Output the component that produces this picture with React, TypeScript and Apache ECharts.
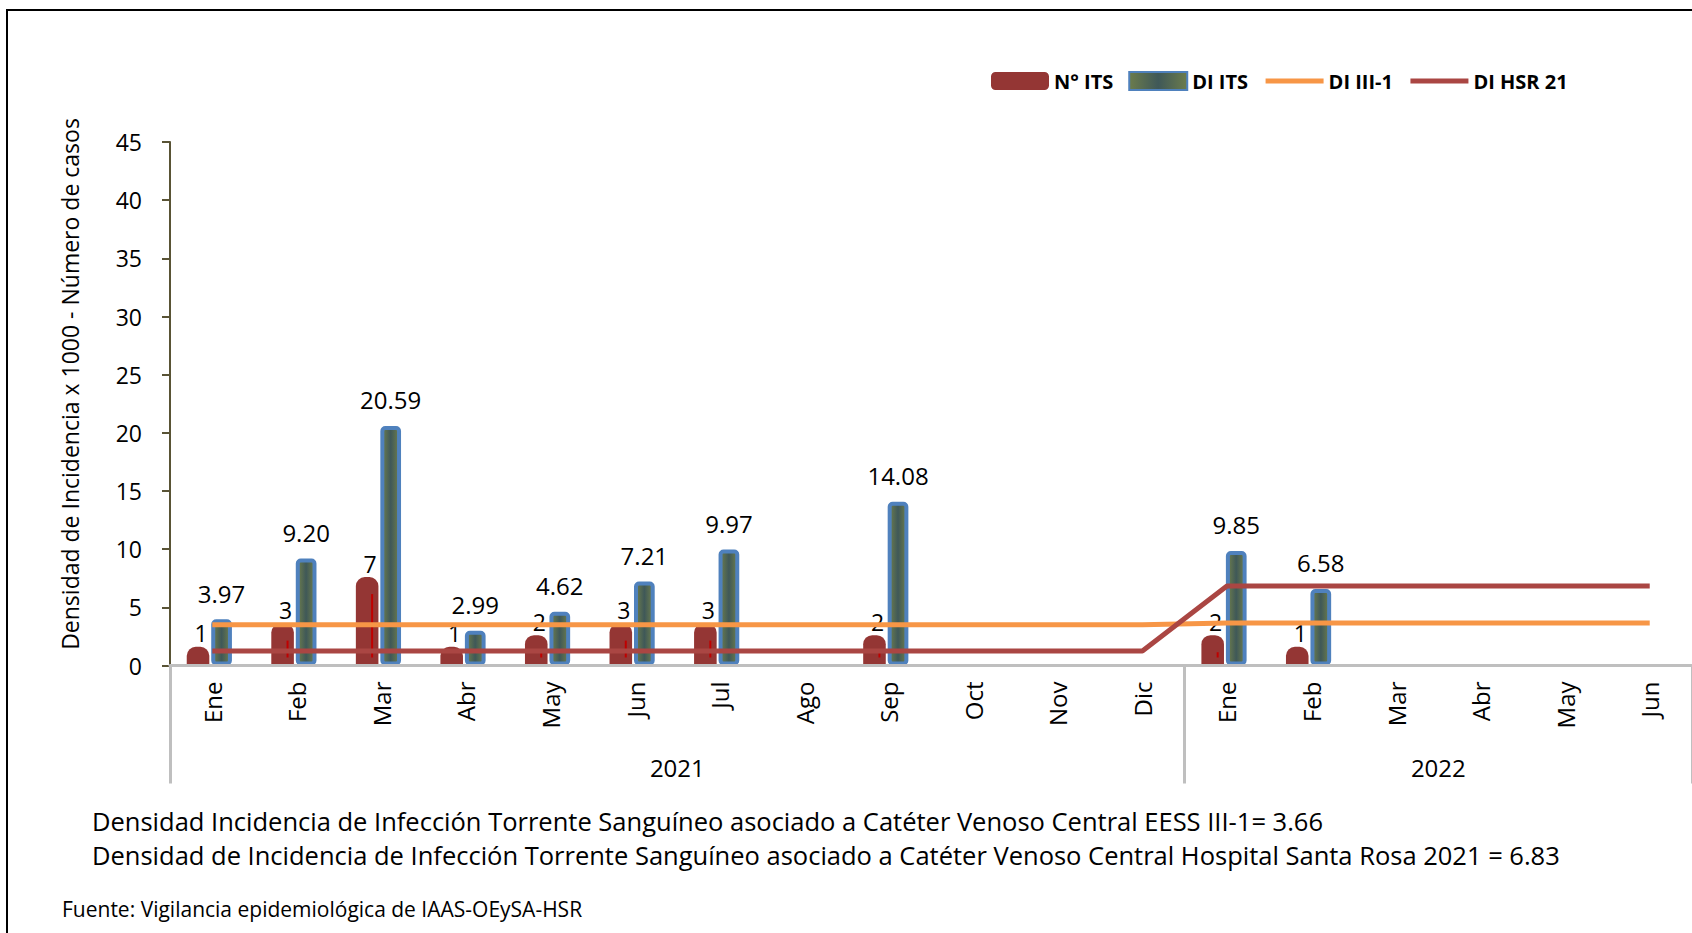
import React, { useEffect, useRef } from "react";
import * as echarts from "echarts";

const months = ["Ene","Feb","Mar","Abr","May","Jun","Jul","Ago","Sep","Oct","Nov","Dic","Ene","Feb","Mar","Abr","May","Jun"];
const years = ["2021", "2022"];
const yearSpans = [12, 6];
const nITS = [1,3,7,1,2,3,3,null,2,null,null,null,2,1,null,null,null,null];
const diITS = [3.97,9.20,20.59,2.99,4.62,7.21,9.97,null,14.08,null,null,null,9.85,6.58,null,null,null,null];
const diIII1 = [3.5,3.5,3.5,3.5,3.5,3.5,3.5,3.5,3.5,3.5,3.5,3.5,3.66,3.66,3.66,3.66,3.66,3.66];
const diHSR21 = [1.25,1.25,1.25,1.25,1.25,1.25,1.25,1.25,1.25,1.25,1.25,1.25,6.83,6.83,6.83,6.83,6.83,6.83];
const yTicks = { min: 0, max: 45, interval: 5 };
const yTitle = "Densidad de Incidencia x 1000 - Número de casos";
const note1 = "Densidad Incidencia de Infección Torrente Sanguíneo asociado a Catéter Venoso Central EESS III-1= 3.66";
const note2 = "Densidad de Incidencia de Infección Torrente Sanguíneo asociado a Catéter Venoso Central Hospital Santa Rosa 2021 = 6.83";
const source = "Fuente: Vigilancia epidemiológica de IAAS-OEySA-HSR";

const FONT = "Open Sans";
const RED = "#943634";

export default function App() {
  const ref = useRef<HTMLDivElement>(null);
  useEffect(() => {
    if (!ref.current) return;
    const chart = echarts.init(ref.current, null, { renderer: "svg" });
    const bounds: number[] = [0];
    yearSpans.forEach((s) => bounds.push(bounds[bounds.length - 1] + s));
    const centers = yearSpans.map((s, i) => bounds[i] + s / 2);
    const diFill = new echarts.graphic.LinearGradient(0, 0, 1, 0, [
      { offset: 0, color: "#6c7c4c" },
      { offset: 0.5, color: "#3f5858" },
      { offset: 1, color: "#6c7c4c" },
    ]);
    const nData = nITS
      .map((v, i) => (v == null ? null : [i, v]))
      .filter((d) => d !== null);
    chart.setOption({
      animation: false,
      backgroundColor: "#ffffff",
      textStyle: { fontFamily: FONT },
      grid: { left: 170, top: 142, width: 1525, height: 523.5 },
      legend: {
        left: 986,
        top: 66,
        itemWidth: 58,
        itemHeight: 18,
        itemGap: 15,
        textStyle: { fontFamily: FONT, fontWeight: "bold", fontSize: 20, color: "#000" },
        data: [
          { name: "N° ITS", icon: "roundRect" },
          { name: "DI ITS", icon: "rect" },
          { name: "DI III-1", itemStyle: { opacity: 0 }, lineStyle: { width: 5, color: "#f79646" } },
          { name: "DI HSR 21", itemStyle: { opacity: 0 }, lineStyle: { width: 5, color: "#aa4643" } },
        ],
      },
      xAxis: [
        {
          type: "category",
          data: months,
          boundaryGap: true,
          axisLine: { show: true, lineStyle: { color: "#bfbfbf", width: 3 } },
          axisTick: { show: false },
          axisLabel: { rotate: 90, margin: 16, fontSize: 24, color: "#000", fontFamily: FONT, interval: 0 },
          splitLine: { show: false },
          z: 5,
        },
        {
          type: "value",
          position: "bottom",
          min: 0,
          max: bounds[bounds.length - 1],
          axisLine: { show: false },
          splitLine: { show: false },
          axisTick: {
            show: true,
            customValues: bounds,
            length: 118,
            lineStyle: { color: "#bfbfbf", width: 3 },
          },
          axisLabel: {
            show: true,
            customValues: centers,
            margin: 90,
            fontSize: 24,
            color: "#000",
            fontFamily: FONT,
            formatter: (v: number) => {
              const i = centers.findIndex((c) => Math.abs(c - v) < 1e-6);
              return i >= 0 ? years[i] : "";
            },
          },
        },
      ],
      yAxis: {
        type: "value",
        min: yTicks.min,
        max: yTicks.max,
        interval: yTicks.interval,
        axisLine: { show: true, lineStyle: { color: "#595335", width: 2 } },
        axisTick: { show: true, length: 8, lineStyle: { color: "#595335", width: 2 } },
        axisLabel: { margin: 28, fontSize: 23, color: "#000", fontFamily: FONT },
        splitLine: { show: false },
      },
      series: [
        {
          name: "N° ITS",
          type: "custom",
          data: nData,
          encode: { x: 0, y: 1 },
          itemStyle: { color: RED },
          z: 2,
          renderItem: (params: any, api: any) => {
            const idx = api.value(0);
            const v = api.value(1);
            const p = api.coord([idx, v]);
            const p0 = api.coord([idx, 0]);
            const bw = api.size([1, 0])[0];
            const left = p[0] - bw * 0.302;
            const right = p[0] - bw * 0.035;
            const top = p[1] - 7;
            const innerX = left + (right - left) * 0.72;
            const innerTop = Math.min(p0[1] - 8, p[1] + 10);
            return {
              type: "group",
              children: [
                {
                  type: "rect",
                  shape: { x: left, y: top, width: right - left, height: p0[1] - top, r: [9, 9, 0, 0] },
                  style: { fill: RED },
                },
                {
                  type: "line",
                  shape: { x1: innerX, y1: innerTop, x2: innerX, y2: p0[1] - 8 },
                  style: { stroke: "#c00000", lineWidth: 2 },
                  invisible: innerTop >= p0[1] - 9,
                },
                {
                  type: "text",
                  style: {
                    text: String(v),
                    x: (left + right) / 2 + 3,
                    y: top - 3,
                    align: "center",
                    verticalAlign: "bottom",
                    fontSize: 23,
                    lineHeight: 21,
                    fontFamily: FONT,
                    fill: "#000",
                  },
                },
              ],
            };
          },
        },
        {
          name: "spacer",
          type: "bar",
          data: months.map(() => null),
          barWidth: 18.6,
          barGap: "0%",
          silent: true,
        },
        {
          name: "DI ITS",
          type: "bar",
          data: diITS,
          barWidth: 20.7,
          barGap: "0%",
          itemStyle: { color: diFill, borderColor: "#4f81bd", borderWidth: 4, borderRadius: 3 },
          label: {
            show: true,
            position: "top",
            distance: 15,
            fontSize: 24,
            lineHeight: 22,
            color: "#000",
            fontFamily: FONT,
            formatter: (p: any) => Number(p.value).toFixed(2),
          },
          z: 3,
        },
        {
          name: "DI III-1",
          type: "line",
          data: diIII1,
          symbol: "none",
          lineStyle: { color: "#f79646", width: 5 },
          itemStyle: { color: "#f79646" },
          z: 4,
        },
        {
          name: "DI HSR 21",
          type: "line",
          data: diHSR21,
          symbol: "none",
          lineStyle: { color: "#aa4643", width: 5 },
          itemStyle: { color: "#aa4643" },
          z: 5,
        },
      ],
      graphic: [
        {
          type: "rect",
          shape: { x: 7, y: 10, width: 1700, height: 960 },
          style: { fill: "none", stroke: "#000", lineWidth: 2 },
          silent: true,
        },
        {
          type: "text",
          x: 70,
          y: 384,
          rotation: Math.PI / 2,
          style: { text: yTitle, fontSize: 23, fontFamily: FONT, fill: "#000", align: "center", verticalAlign: "middle" },
        },
        {
          type: "text",
          x: 92,
          y: 821,
          style: { text: note1, fontSize: 25.5, fontFamily: FONT, fill: "#000", align: "left", verticalAlign: "middle" },
        },
        {
          type: "text",
          x: 92,
          y: 855,
          style: { text: note2, fontSize: 25.5, fontFamily: FONT, fill: "#000", align: "left", verticalAlign: "middle" },
        },
        {
          type: "text",
          x: 62,
          y: 909,
          style: { text: source, fontSize: 21, fontFamily: FONT, fill: "#000", align: "left", verticalAlign: "middle" },
        },
      ],
    });
    return () => chart.dispose();
  }, []);
  return (
    <div
      ref={ref}
      style={{ position: "fixed", left: 0, top: 0, width: 1692, height: 933, background: "#fff" }}
    />
  );
}
